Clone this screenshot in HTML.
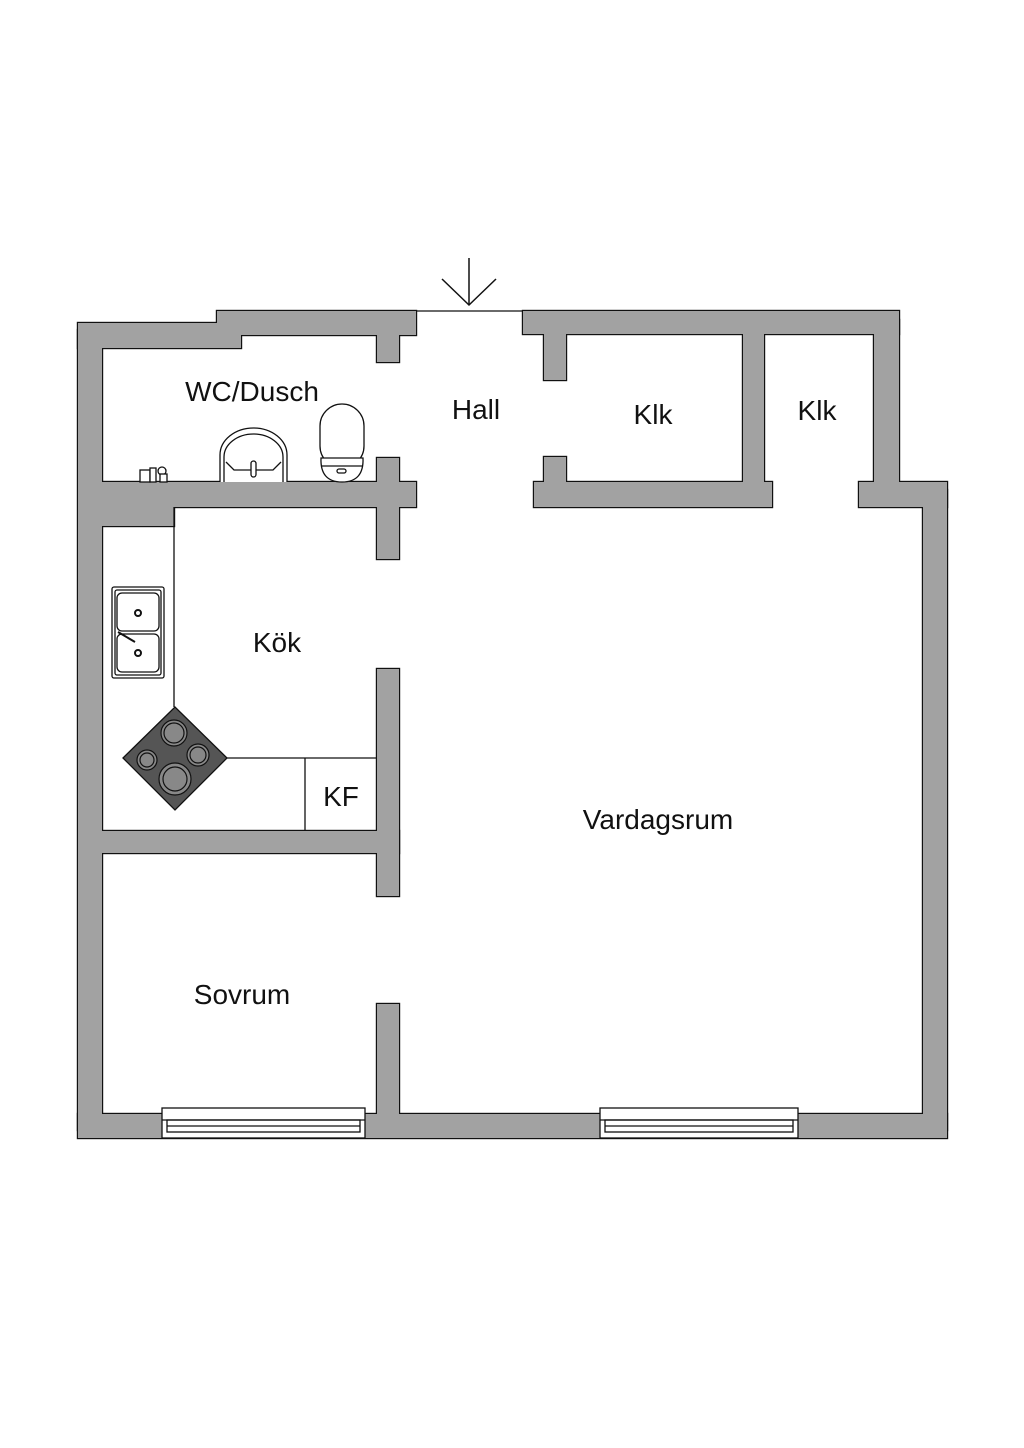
<!DOCTYPE html>
<html><head><meta charset="utf-8"><style>
html,body{margin:0;padding:0;background:#fff;}
svg{display:block}
text{font-family:"Liberation Sans",sans-serif;font-size:28px;fill:#111;text-anchor:middle;}
</style></head><body>
<svg width="1024" height="1448" viewBox="0 0 1024 1448" xmlns="http://www.w3.org/2000/svg">
<defs>
<g id="walls">
<rect x="78" y="330" width="24" height="800"/>
<rect x="78" y="323" width="163" height="25"/>
<rect x="217" y="311" width="199" height="24"/>
<rect x="377" y="320" width="22" height="42"/>
<rect x="90" y="482" width="326" height="25"/>
<rect x="377" y="458" width="22" height="101"/>
<rect x="90" y="490" width="84" height="36"/>
<rect x="523" y="311" width="376" height="23"/>
<rect x="544" y="320" width="22" height="60"/>
<rect x="534" y="482" width="238" height="25"/>
<rect x="544" y="457" width="22" height="40"/>
<rect x="743" y="320" width="21" height="175"/>
<rect x="874" y="320" width="25" height="175"/>
<rect x="859" y="482" width="88" height="25"/>
<rect x="923" y="490" width="24" height="640"/>
<rect x="78" y="1114" width="869" height="24"/>
<rect x="377" y="669" width="22" height="227"/>
<rect x="90" y="831" width="309" height="22"/>
<rect x="377" y="1004" width="22" height="126"/>
</g>
</defs>
<use href="#walls" fill="#a2a2a2" stroke="#111" stroke-width="2.4"/>
<use href="#walls" fill="#a2a2a2"/>

<!-- entrance -->
<line x1="416" y1="311" x2="523" y2="311" stroke="#111" stroke-width="1.2"/>
<line x1="469" y1="258" x2="469" y2="305" stroke="#111" stroke-width="1.5"/>
<polyline points="442,279 469,305 496,279" fill="none" stroke="#111" stroke-width="1.5"/>

<!-- windows -->
<g fill="#fff" stroke="#111" stroke-width="1.3">
<rect x="162" y="1108" width="203" height="30"/>
<line x1="162" y1="1120" x2="365" y2="1120"/>
<rect x="167" y="1120" width="193" height="12" fill="none"/>
<line x1="167" y1="1126" x2="360" y2="1126"/>
<rect x="600" y="1108" width="198" height="30"/>
<line x1="600" y1="1120" x2="798" y2="1120"/>
<rect x="605" y="1120" width="188" height="12" fill="none"/>
<line x1="605" y1="1126" x2="793" y2="1126"/>
</g>

<!-- kitchen counter -->
<g stroke="#111" stroke-width="1.3" fill="none">
<line x1="174" y1="507" x2="174" y2="707"/>
<line x1="226" y1="758" x2="377" y2="758"/>
<line x1="305" y1="758" x2="305" y2="831"/>
<rect x="112" y="587" width="52" height="91" rx="2"/>
<rect x="115" y="590" width="46" height="85" rx="2"/>
<rect x="117" y="593" width="42" height="38" rx="5"/>
<rect x="117" y="634" width="42" height="38" rx="5"/>
<circle cx="138" cy="613" r="3" stroke-width="2"/>
<circle cx="138" cy="653" r="3" stroke-width="2"/>
<line x1="118" y1="632" x2="135" y2="642" stroke-width="2"/>
</g>
<!-- stove -->
<polygon points="123,758 175,707 227,758 175,810" fill="#555" stroke="#111" stroke-width="1.3"/>
<g fill="#888" stroke="#111" stroke-width="1.2">
<circle cx="174" cy="733" r="13"/><circle cx="174" cy="733" r="10" fill="none"/>
<circle cx="147" cy="760" r="10"/><circle cx="147" cy="760" r="7" fill="none"/>
<circle cx="198" cy="755" r="11"/><circle cx="198" cy="755" r="8" fill="none"/>
<circle cx="175" cy="779" r="16"/><circle cx="175" cy="779" r="12" fill="none"/>
</g>

<!-- bathroom fixtures -->
<g stroke="#111" stroke-width="1.3" fill="#fff">
<path d="M220,482 L220,455 A33.5,27 0 0 1 287,455 L287,482"/>
<path d="M224,482 L224,457 A29.5,23 0 0 1 283,457 L283,482" fill="none"/>
<path d="M226,462 L234,470 L273,470 L281,462" fill="none"/>
<rect x="251" y="461" width="5" height="16" rx="2.5"/>
<rect x="320" y="404" width="44" height="64" rx="22"/>
<path d="M321,458 Q320,482 342,482 Q364,482 363,458 Z"/>
<line x1="322" y1="466" x2="362" y2="466"/>
<rect x="337" y="469" width="9" height="4" rx="2"/>
<rect x="140" y="470" width="10" height="12"/>
<rect x="150" y="468" width="6" height="14"/>
<circle cx="162" cy="471" r="4"/>
<rect x="160" y="474" width="7" height="8"/>
</g>

<!-- labels -->
<text x="252" y="401">WC/Dusch</text>
<text x="476" y="419">Hall</text>
<text x="653" y="424">Klk</text>
<text x="817" y="420">Klk</text>
<text x="277" y="652">Kök</text>
<text x="341" y="806">KF</text>
<text x="658" y="829">Vardagsrum</text>
<text x="242" y="1004">Sovrum</text>
</svg>
</body></html>
